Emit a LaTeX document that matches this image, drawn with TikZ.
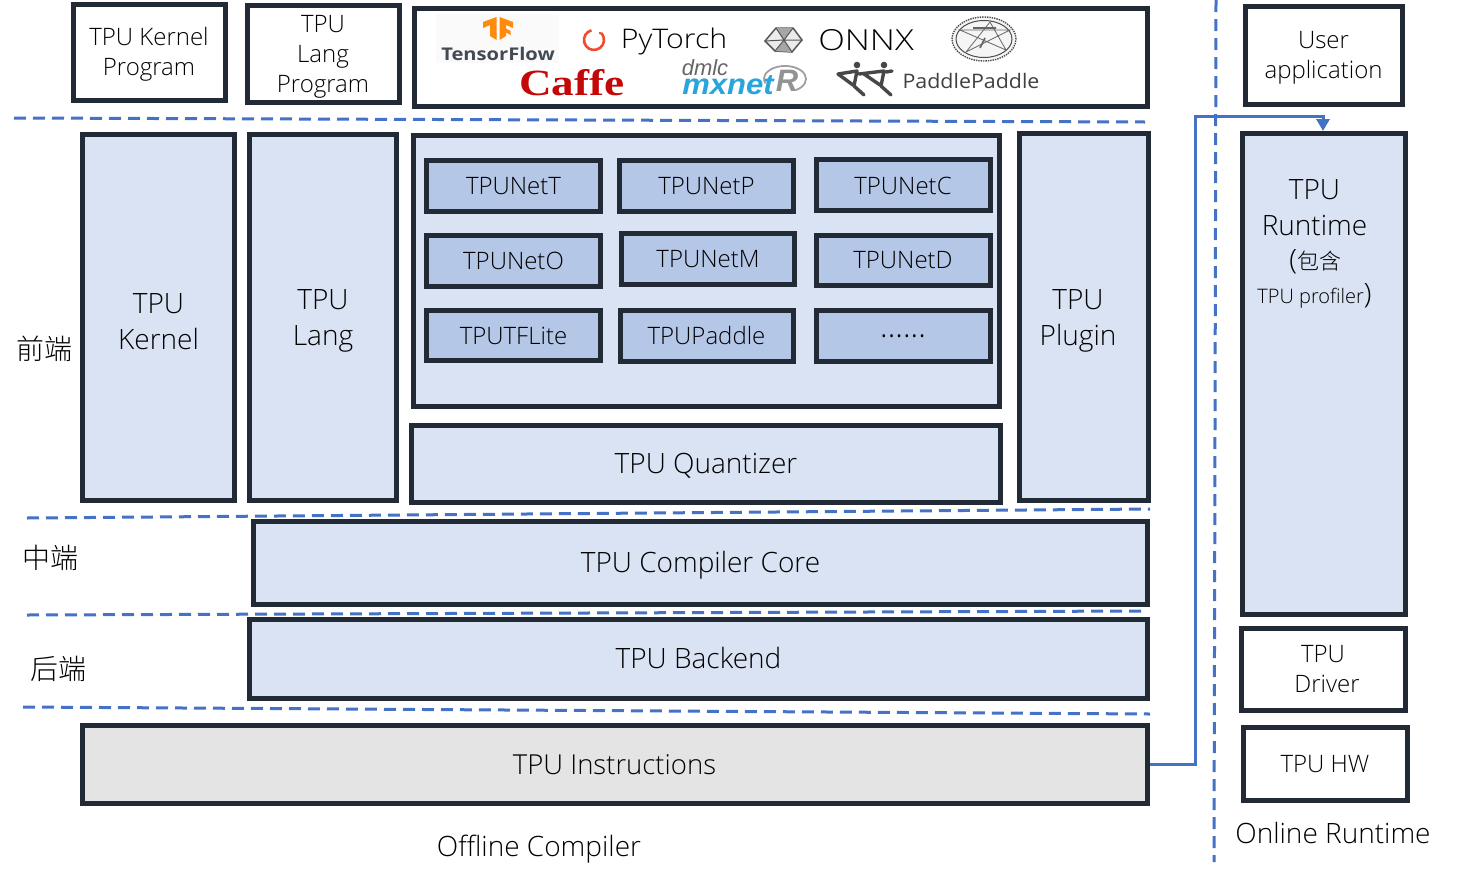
\documentclass[tikz,border=0pt]{standalone}
\usepackage{graphicx}
\usepackage{fontspec}
\setmainfont{Open Sans}[UprightFont=* Light]
\newfontfamily\cjk{Noto Sans CJK SC}[UprightFont=* Light]
\newfontfamily\lgsans{Open Sans}
\newfontfamily\lgserif{Liberation Serif}
\newfontfamily\lgbold{Liberation Sans}
\usetikzlibrary{arrows.meta}
\definecolor{edge}{HTML}{222A35}
\definecolor{pale}{HTML}{DAE3F3}
\definecolor{mid}{HTML}{B4C7E7}
\definecolor{greybox}{HTML}{E4E4E4}
\definecolor{link}{HTML}{4472C4}
\definecolor{tforange}{HTML}{FF8A0C}
\definecolor{ptred}{HTML}{EE4C2C}
\definecolor{mxblue}{HTML}{2AA5DC}
\definecolor{caffered}{HTML}{C40808}
\tikzset{
  boxbase/.style={draw=edge,line width=5pt,inner sep=0pt,align=center,font=\fontsize{26}{35}\selectfont},
  plainbox/.style={boxbase,fill=white,font=\fontsize{24}{30}\selectfont},
  palebox/.style={boxbase,fill=pale,font=\fontsize{28}{36}\selectfont},
  midbox/.style={boxbase,fill=mid,font=\fontsize{24}{30}\selectfont},
  greyfill/.style={boxbase,fill=greybox,font=\fontsize{28}{36}\selectfont},
  divider/.style={draw=link,line width=3pt,dash pattern=on 12pt off 7pt},
  linker/.style={draw=link,line width=3pt,-{Triangle[length=12pt,width=13pt]}},
  caption/.style={inner sep=0pt,font=\fontsize{28}{36}\selectfont},
  cjklabel/.style={inner sep=0pt,font=\cjk\fontsize{28}{34}\selectfont},
  logotext/.style={inner sep=0pt}
}
% name, x1,y1,x2,y2 (outer edges), style, text x, text y, text
\newcommand{\tbox}[9]{%
  \node[#6,minimum width={#4-#2-5},minimum height={#5-#3-5}] (#1) at ({(#2+#4)/2},{(#3+#5)/2}) {};
  \node[#6,draw=none,fill=none,text=black] (#1txt) at (#7,#8) {#9};
}
\begin{document}
\begin{tikzpicture}[x=1pt,y=-1pt]
\useasboundingbox (0,0) rectangle (1457,873);
% top row
\tbox{kprog}{71}{2}{228}{103}{plainbox}{149}{54}{TPU Kernel\\Program}
\tbox{lprog}{245}{3}{402}{105}{plainbox}{323}{57}{TPU\\Lang\\Program}
\node[plainbox,minimum width=733pt,minimum height=98pt] (logos) at (781,57.5) {};
% tensorflow
\fill[gray!4] (436,14) rectangle (559,63);
\fill[tforange] (496.5,17) -- (483,22) -- (483,28) -- (490,25) -- (490,36) -- (496.5,40) -- cycle;
\fill[tforange] (499.5,17) -- (513,22) -- (513,28) -- (506,25) -- (506,28.5) -- (510.5,31) -- (510.5,35) -- (506,32.5) -- (506,36) -- (499.5,40) -- cycle;
\node[logotext,font=\lgsans\bfseries\fontsize{17.5}{20}\selectfont,text=edge!85] (tf) at (498,54) {\scalebox{1.15}[1]{TensorFlow}};
% pytorch
\draw[ptred,line width=2.6pt] (591.4,30.3) arc[start angle=-105,end angle=-405,radius=10];
\fill[ptred] (600,33) circle (1.4pt);
\node[logotext,font=\fontsize{27}{30}\selectfont,text=black] (pt) at (674,41) {\scalebox{1.12}[1]{PyTorch}};
% onnx
\draw[black!65,fill=black!8,line width=1.5pt] (776,28) -- (793,28) -- (802,40) -- (792,52) -- (775,51) -- (765,41) -- cycle;
\fill[black!35] (776,28) -- (793,28) -- (784,40) -- cycle (775,51) -- (792,52) -- (784,40) -- cycle;
\draw[black!65,line width=1pt] (776,28) -- (784,40) -- (765,41) (784,40) -- (802,40) (784,40) -- (775,51) (784,40) -- (792,52) (784,40) -- (793,28);
\node[logotext,font=\fontsize{29}{30}\selectfont,text=black] (onnx) at (866,40) {\scalebox{1.2}[1]{ONNX}};
% circular logo
\draw[black!70,line width=1.4pt,densely dotted,fill=gray!8] (984,39) ellipse[x radius=32pt,y radius=22pt];
\draw[black!70,line width=1pt] (984,39) ellipse[x radius=28pt,y radius=18.5pt];
\draw[black!60,line width=.8pt] (960,30) -- (1006,50) -- (990,22) -- (966,52) -- (1010,30) -- cycle;
\draw[black!60,line width=1.6pt] (973,28) -- (996,28) (985,38) -- (980,48);
% caffe
\node[logotext,font=\lgserif\bfseries\fontsize{37}{38}\selectfont,text=caffered] (caffe) at (572,83) {\scalebox{1.22}[1]{Caffe}};
% mxnet
\draw[gray!75,line width=1.8pt] (765.3,83.4) arc[start angle=-200,end angle=60,x radius=21,y radius=13];
\node[logotext,font=\lgbold\bfseries\itshape\fontsize{31}{32}\selectfont,text=gray!85] (rr) at (787,81) {R};
\node[logotext,font=\lgbold\fontsize{22}{22}\selectfont\itshape,text=black!60] (dmlc) at (705,68) {dmlc};
\node[logotext,font=\lgbold\bfseries\itshape\fontsize{29}{24}\selectfont,text=mxblue] (mx) at (728,85) {\scalebox{1.07}[1]{mxnet}};
% paddle
\fill[black!72] (857,65) circle (3.3pt) (884,65) circle (3.3pt);
\draw[black!72,line width=3.4pt,line cap=round,line join=round]
  (838,74) -- (857,71) -- (854,86) -- (864,95) (838,74) -- (853,85)
  (859,74) -- (884,71) -- (881,86) -- (891,95) (864,74) -- (880,85)
  (886,72) -- (892,71);
\node[logotext,font=\lgsans\fontsize{20}{22}\selectfont,text=black!75] (pp) at (971,81) {\scalebox{1.07}[1]{PaddlePaddle}};
% dividers
\coordinate (d1a) at (14,118); \coordinate (d1b) at (1145,122);
\coordinate (d2a) at (27,518); \coordinate (d2b) at (1150,509);
\coordinate (d3a) at (27,615); \coordinate (d3b) at (1145,611);
\coordinate (d4a) at (23,707); \coordinate (d4b) at (1150,714);
\coordinate (v1) at (1216,0); \coordinate (v2) at (1214,862);
\draw[divider] (d1a) -- (d1b);
\draw[divider] (d2a) -- (d2b);
\draw[divider] (d3a) -- (d3b);
\draw[divider] (d4a) -- (d4b);
\draw[divider] (v1) -- (v2);
% main column boxes
\tbox{kernel}{80}{132}{237}{503}{palebox}{158.5}{322}{TPU\\Kernel}
\tbox{lang}{247}{132}{399}{503}{palebox}{323}{321}{TPU\\Lang}
\node[palebox,minimum width=586pt,minimum height=271pt] (group) at (706.5,271) {};
\tbox{plugin}{1017}{131}{1151}{503}{palebox}{1078}{321}{TPU\\Plugin}
\tbox{nett}{424}{158}{603}{214}{midbox}{513.5}{186}{TPUNetT}
\tbox{netp}{617}{158}{796}{214}{midbox}{706.5}{186}{TPUNetP}
\tbox{netc}{814}{157}{993}{213}{midbox}{903}{185.5}{TPUNetC}
\tbox{neto}{424}{233}{603}{289}{midbox}{513.5}{260.5}{TPUNetO}
\tbox{netm}{619}{231}{797}{287}{midbox}{708}{259.5}{TPUNetM}
\tbox{netd}{814}{233}{993}{288}{midbox}{903}{260.5}{TPUNetD}
\tbox{nettf}{424}{308}{603}{363}{midbox}{513.5}{335.5}{TPUTFLite}
\tbox{netpd}{618}{308}{796}{364}{midbox}{706.5}{335}{TPUPaddle}
\tbox{netmore}{814}{308}{993}{364}{midbox}{903}{341}{\fontsize{32}{30}\selectfont ······}
\tbox{quant}{409}{423}{1003}{505}{palebox}{706}{466}{TPU Quantizer}
\tbox{core}{251}{519}{1150}{607}{palebox}{700.5}{565}{TPU Compiler Core}
\tbox{back}{247}{617}{1150}{701}{palebox}{698.5}{658}{TPU Backend}
\tbox{instr}{80}{723}{1150}{806}{greyfill}{614.5}{764.5}{\fontsize{27.5}{36}\selectfont TPU Instructions}
% runtime column
\tbox{user}{1243}{4}{1405}{107}{plainbox}{1323.5}{58}{User\\application}
\tbox{runtime}{1240}{131}{1408}{617}{palebox}{1314.5}{207.5}{\fontsize{28}{35}\selectfont TPU\\Runtime}
\node[inner sep=0pt,font=\fontsize{28}{30}\selectfont] (rt2) at (1319,262) {({\cjk\fontsize{22}{26}\selectfont 包含}\phantom{)}};
\node[inner sep=0pt,font=\fontsize{20}{26}\selectfont] (rt3) at (1314.5,296) {TPU profiler{\fontsize{28}{30}\selectfont)}};
\tbox{driver}{1239}{626}{1408}{713}{plainbox}{1325}{669.5}{TPU\kern4pt\\\kern4pt Driver}
\tbox{hw}{1241}{725}{1410}{803}{plainbox}{1325}{764}{TPU HW}
% labels
\node[cjklabel] (front) at (44.5,349) {前端};
\node[cjklabel] (middle) at (50.5,558) {中端};
\node[cjklabel] (backlbl) at (58.5,669) {后端};
\node[caption] (off) at (539,849) {Offline Compiler};
\node[caption] (on) at (1333,833) {Online Runtime};
% connector
\draw[linker] (instr.east |- instr.center) -| (1195,116) -| (runtime.north -| 1323,0);
\end{tikzpicture}
\end{document}
